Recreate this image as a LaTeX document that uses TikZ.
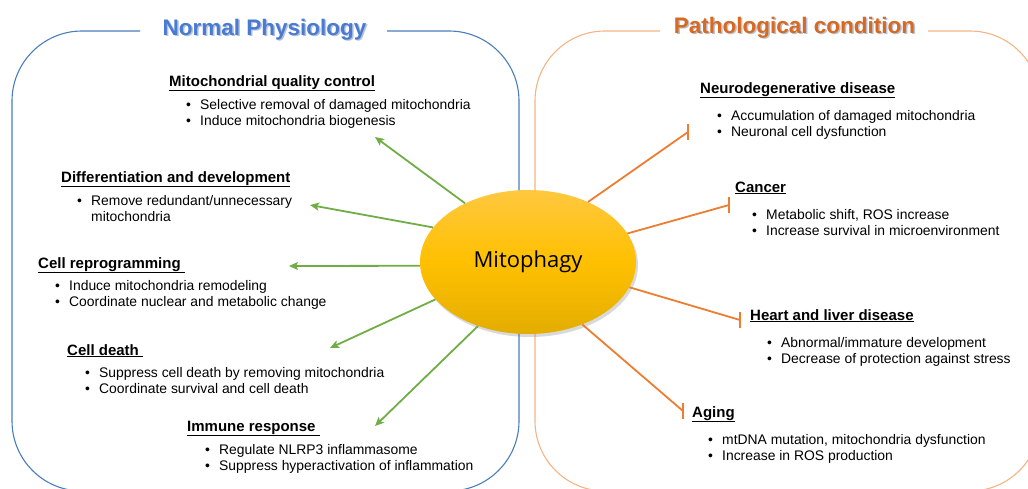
\documentclass[tikz,border=0pt]{standalone}
\usepackage{fontspec}
\setmainfont{Liberation Sans}
\newfontfamily\mitofont{Open Sans}
\usetikzlibrary{shapes.geometric,shadows,arrows.meta}
\definecolor{boxblue}{HTML}{4A7EBB}
\definecolor{boxorange}{HTML}{F5B486}
\definecolor{grn}{HTML}{70AD47}
\definecolor{org}{HTML}{ED7D31}
\definecolor{titleblue}{HTML}{4A7BD0}
\definecolor{titleorange}{HTML}{D9691E}
\definecolor{tshadow}{HTML}{B4C3DB}
\definecolor{ytop}{HTML}{FFC840}
\definecolor{ymid}{HTML}{FFC000}
\definecolor{ybot}{HTML}{E3AD00}
\newcommand\bl{\makebox[14pt][l]{\textbullet}}
\tikzset{
  frameblue/.style={draw=boxblue, line width=1.1pt, rounded corners=70pt},
  frameorange/.style={draw=boxorange, line width=1.1pt, rounded corners=70pt},
  grnarrow/.style={draw=grn, line width=1.8pt, -{Stealth[length=9pt,width=8pt,inset=2pt]}},
  orgline/.style={draw=org, line width=1.8pt},
  orgbar/.style={draw=org, line width=1.8pt},
  head/.style={anchor=base west, inner sep=0pt, font=\fontsize{15}{18}\selectfont\bfseries},
  items/.style={anchor=base west, inner sep=0pt, font=\fontsize{13.9}{16.8}\selectfont},
  titletext/.style={anchor=base, inner sep=0pt, font=\fontsize{22.5}{26}\selectfont\bfseries},
}
\begin{document}
\begin{tikzpicture}[x=1pt,y=-1pt]
\useasboundingbox (0,0) rectangle (1028,488);
% frames
\draw[frameblue] (140,31) -- (12,31) -- (12,491) -- (519,491) -- (519,31) -- (387,31);
\draw[frameorange] (660,31) -- (535,31) -- (535,491) -- (1040,491) -- (1040,31) -- (928,31);
% titles
\node[titletext, text=tshadow] (t1s) at (266,36.5) {Normal Physiology};
\node[titletext, text=titleblue] (t1) at (264.5,35) {Normal Physiology};
\node[titletext, text=tshadow] (t2s) at (796,34.5) {Pathological condition};
\node[titletext, text=titleorange] (t2) at (794.5,33) {Pathological condition};
% center
\node[ellipse, minimum width=216pt, minimum height=144pt, inner sep=0pt,
      top color=ytop, bottom color=ybot, middle color=ymid,
      drop shadow={opacity=0.3, shadow xshift=2pt, shadow yshift=-3pt},
      font=\mitofont\fontsize{22}{26}\selectfont] (mito) at (528,262) {Mitophagy};
% green arrow ends
\coordinate (g1) at (375,137);
\coordinate (g2) at (310,205);
\coordinate (g3) at (289,266);
\coordinate (g4) at (330,348);
\coordinate (g5) at (375,426);
\draw[grnarrow] (mito.137) -- (g1);
\draw[grnarrow] (mito.160) -- (g2);
\draw[grnarrow] (mito.182) -- (g3);
\draw[grnarrow] (mito.202) -- (g4);
\draw[grnarrow] (mito.232) -- (g5);
% orange inhibition ends
\coordinate (r1) at (688,132);
\coordinate (r2) at (729,205);
\coordinate (r3) at (740,320);
\coordinate (r4) at (683,411);
\draw[orgline] (mito.45) -- (r1);
\draw[orgline] (mito.16) -- (r2);
\draw[orgline] (mito.346) -- (r3);
\draw[orgline] (mito.311) -- (r4);
\draw[orgbar] ([yshift=8pt]r1) -- ([yshift=-8pt]r1);
\draw[orgbar] ([yshift=8pt]r2) -- ([yshift=-8pt]r2);
\draw[orgbar] ([yshift=8pt]r3) -- ([yshift=-8pt]r3);
\draw[orgbar] ([yshift=8pt]r4) -- ([yshift=-8pt]r4);
% left texts
\node[head] (h1) at (169,86) {\underline{Mitochondrial quality control}};
\node[items] (l1) at (186,109) {\begin{tabular}[t]{@{}l@{}}\bl Selective removal of damaged mitochondria\\ \bl Induce mitochondria biogenesis\end{tabular}};
\node[head] (h2) at (61,182) {\underline{Differentiation and development}};
\node[items] (l2) at (77,205) {\begin{tabular}[t]{@{}l@{}}\bl Remove redundant/unnecessary\\ \hspace{14pt}mitochondria\end{tabular}};
\node[head] (h3) at (38,268) {\underline{Cell reprogramming\ }};
\node[items] (l3) at (55,290) {\begin{tabular}[t]{@{}l@{}}\bl Induce mitochondria remodeling\\ \bl Coordinate nuclear and metabolic change\end{tabular}};
\node[head] (h4) at (67,355) {\underline{Cell death\ }};
\node[items] (l4) at (85,377) {\begin{tabular}[t]{@{}l@{}}\bl Suppress cell death by removing mitochondria\\ \bl Coordinate survival and cell death\end{tabular}};
\node[head] (h5) at (187,431) {\underline{Immune response\ }};
\node[items] (l5) at (205,454) {\begin{tabular}[t]{@{}l@{}}\bl Regulate NLRP3 inflammasome\\ \bl Suppress hyperactivation of inflammation\end{tabular}};
% right texts
\node[head] (h6) at (700,93) {\underline{Neurodegenerative disease}};
\node[items] (l6) at (717,120) {\begin{tabular}[t]{@{}l@{}}\bl Accumulation of damaged mitochondria\\ \bl Neuronal cell dysfunction\end{tabular}};
\node[head] (h7) at (735,192) {\underline{Cancer}};
\node[items] (l7) at (752,219) {\begin{tabular}[t]{@{}l@{}}\bl Metabolic shift, ROS increase\\ \bl Increase survival in microenvironment\end{tabular}};
\node[head] (h8) at (750,320) {\underline{Heart and liver disease}};
\node[items] (l8) at (767,347) {\begin{tabular}[t]{@{}l@{}}\bl Abnormal/immature development\\ \bl Decrease of protection against stress\end{tabular}};
\node[head] (h9) at (692,417) {\underline{Aging}};
\node[items] (l9) at (708,444) {\begin{tabular}[t]{@{}l@{}}\bl mtDNA mutation, mitochondria dysfunction\\ \bl Increase in ROS production\end{tabular}};
\end{tikzpicture}
\end{document}
